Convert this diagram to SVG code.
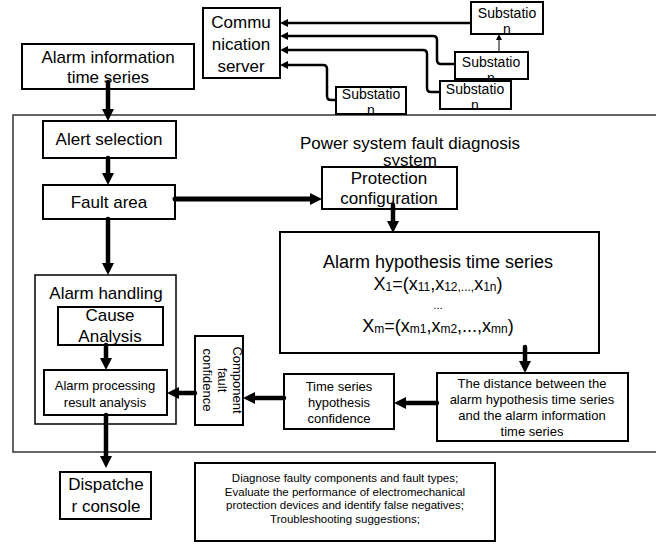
<svg xmlns="http://www.w3.org/2000/svg" width="656" height="544" viewBox="0 0 656 544">
<style>
text{font-family:"Liberation Sans",Arial,sans-serif;fill:#000;text-anchor:middle;dominant-baseline:central}
.b{fill:#fff;stroke:#000;stroke-width:2}
.t17{font-size:17px}.t14{font-size:14px}.t13{font-size:13px}.t12{font-size:11.5px}.t18{font-size:18px}
.thick{fill:none;stroke:#000;stroke-width:4.5;stroke-linecap:round}
.com{fill:none;stroke:#000;stroke-width:2.5}
</style>
<defs>
<marker id="ah" viewBox="0 0 12 12" markerWidth="12" markerHeight="12" markerUnits="userSpaceOnUse" refX="1" refY="6" orient="auto"><path d="M0,0L12,6L0,12z"/></marker>
<marker id="as" viewBox="0 0 8 8" markerWidth="8" markerHeight="8" markerUnits="userSpaceOnUse" refX="1" refY="4" orient="auto"><path d="M0,0L8,4L0,8z"/></marker>
<marker id="at" viewBox="0 0 6 6" markerWidth="6" markerHeight="6" markerUnits="userSpaceOnUse" refX="1" refY="3" orient="auto"><path d="M0,0L6,3L0,6z"/></marker>
</defs>
<rect x="13" y="115" width="700" height="337" fill="none" stroke="#333" stroke-width="1.5"/>
<g id="title"><text class="t17" x="410" y="143">Power system fault diagnosis</text><text class="t17" x="410" y="160">system</text></g>
<g id="comm"><rect class="b" x="203" y="8" width="77" height="70"/><text class="t17" x="241" y="22">Commu</text><text class="t17" x="241" y="44">nication</text><text class="t17" x="241" y="66">server</text></g>
<g id="sub1"><rect class="b" x="471" y="2" width="72" height="32"/><text class="t14" x="507" y="13">Substatio</text><text class="t14" x="507" y="29">n</text></g>
<g id="sub2"><rect class="b" x="455" y="52" width="73" height="27"/><text class="t14" x="491" y="62">Substatio</text><text class="t14" x="491" y="78">n</text></g>
<g id="sub3"><rect class="b" x="440" y="81" width="71" height="28"/><text class="t14" x="475" y="89">Substatio</text><text class="t14" x="475" y="105">n</text></g>
<g id="sub4"><rect class="b" x="336" y="87" width="70" height="27"/><text class="t14" x="371" y="94">Substatio</text><text class="t14" x="371" y="110">n</text></g>
<g id="alarminfo"><rect class="b" x="22" y="44" width="172" height="45"/><text class="t17" x="108" y="57">Alarm information</text><text class="t17" x="108" y="77">time series</text></g>
<g id="alert"><rect class="b" x="43" y="121" width="133" height="37"/><text class="t17" x="109" y="139">Alert selection</text></g>
<g id="fault"><rect class="b" x="43" y="185" width="132" height="34"/><text class="t17" x="109" y="202">Fault area</text></g>
<g id="protection"><rect class="b" x="322" y="167" width="135" height="42"/><text class="t17" x="389" y="178">Protection</text><text class="t17" x="389" y="198">configuration</text></g>
<g id="hypothesis"><rect class="b" x="280" y="232" width="319" height="121"/>
<text class="t18" x="438" y="262">Alarm hypothesis time series</text>
<text class="t18" x="438" y="284">X<tspan font-size="12" dy="3">1</tspan><tspan dy="-3">=(x</tspan><tspan font-size="12" dy="3">11</tspan><tspan dy="-3">,x</tspan><tspan font-size="12" dy="3">12,...,</tspan><tspan dy="-3">x</tspan><tspan font-size="12" dy="3">1n</tspan><tspan dy="-3">)</tspan></text>
<text class="t12" x="438" y="305">...</text>
<text class="t18" x="438" y="326">X<tspan font-size="12" dy="3">m</tspan><tspan dy="-3">=(x</tspan><tspan font-size="12" dy="3">m1</tspan><tspan dy="-3">,x</tspan><tspan font-size="12" dy="3">m2</tspan><tspan dy="-3">,...,x</tspan><tspan font-size="12" dy="3">mn</tspan><tspan dy="-3">)</tspan></text></g>
<g id="handling"><rect x="35" y="275" width="141" height="149" fill="#fff" stroke="#000" stroke-width="1.5"/><text class="t17" x="106" y="293">Alarm handling</text></g>
<g id="cause"><rect class="b" x="58" y="307" width="105" height="38"/><text class="t17" x="110" y="315">Cause</text><text class="t17" x="110" y="336">Analysis</text></g>
<g id="processing"><rect class="b" x="44" y="370" width="123" height="45"/><text class="t13" x="105" y="385">Alarm processing</text><text class="t13" x="105" y="402">result analysis</text></g>
<g id="component"><rect class="b" x="195" y="336" width="48" height="89"/><g transform="translate(222,380) rotate(90)"><text class="t13" x="0" y="-15">Component</text><text class="t13" x="0" y="0">fault</text><text class="t13" x="0" y="15">confidence</text></g></g>
<g id="tsconf"><rect class="b" x="284" y="374" width="110" height="55"/><text class="t13" x="339" y="386">Time series</text><text class="t13" x="339" y="402">hypothesis</text><text class="t13" x="339" y="418">confidence</text></g>
<g id="distance"><rect class="b" x="437" y="373" width="191" height="68"/><text class="t13" x="532" y="383">The distance between the</text><text class="t13" x="532" y="399">alarm hypothesis time series</text><text class="t13" x="532" y="415">and the alarm information</text><text class="t13" x="532" y="431">time series</text></g>
<g id="dispatcher"><rect class="b" x="60" y="472" width="91" height="47"/><text class="t17" x="106" y="484">Dispatche</text><text class="t17" x="106" y="506">r console</text></g>
<g id="result"><rect class="b" x="195" y="463" width="300" height="78"/><text class="t12" x="345" y="478">Diagnose faulty components and fault types;</text><text class="t12" x="345" y="492">Evaluate the performance of electromechanical</text><text class="t12" x="345" y="505">protection devices and identify false negatives;</text><text class="t12" x="345" y="519">Troubleshooting suggestions;</text></g>
<g id="connectors">
<path class="thick" d="M108,82V110" marker-end="url(#ah)"/>
<path class="thick" d="M108,158V174" marker-end="url(#ah)"/>
<path class="thick" d="M175,199H311" marker-end="url(#ah)" style="stroke-width:5"/>
<path class="thick" d="M393,205V222" marker-end="url(#ah)"/>
<path class="thick" d="M108,219V264" marker-end="url(#ah)"/>
<path class="thick" d="M106,345V359" marker-end="url(#ah)"/>
<path class="thick" d="M106,415V457" marker-end="url(#ah)"/>
<path class="thick" d="M525,347V362" marker-end="url(#ah)"/>
<path class="thick" d="M437,403H405" marker-end="url(#ah)"/>
<path class="thick" d="M284,398H254" marker-end="url(#ah)"/>
<path class="thick" d="M195,393H178" marker-end="url(#ah)"/>
<path class="com" d="M471,23H287" marker-end="url(#as)"/>
<path class="com" d="M455,64H441Q437,64 437,60V40Q437,36 433,36H287" marker-end="url(#as)"/>
<path class="com" d="M440,92H431Q427,92 427,88V54Q427,50 423,50H287" marker-end="url(#as)"/>
<path class="com" d="M336,100H331Q327,100 327,96V69Q327,65 323,65H287" marker-end="url(#as)"/>
<path d="M499,52V39" stroke="#000" stroke-width="1" marker-end="url(#at)"/>
</g>
</svg>
